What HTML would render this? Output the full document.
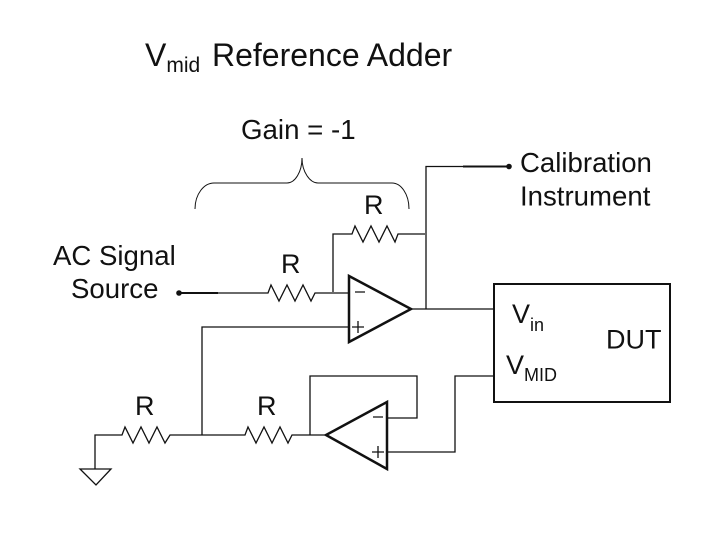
<!DOCTYPE html>
<html><head><meta charset="utf-8"><style>
html,body{margin:0;padding:0;background:#fff}
svg{display:block}
text{font-family:"Liberation Sans",Arial,sans-serif;fill:#111}
</style></head><body>
<svg width="720" height="540" viewBox="0 0 720 540" xmlns="http://www.w3.org/2000/svg">
<rect width="720" height="540" fill="#fff"/>
<g fill="none" stroke="#111" stroke-width="1.3">
<path d="M195 209C195 194 204 183 214 183H287C295 183 302 172 302 158C302 172 310 183 318 183H392C401 183 409 194 409 209" stroke-width="1"/>
<path d="M218 293H268L271 285L279 301L287 285L295 301L303 285L311 301L315 293H349"/>
<path d="M333 292V234H352L355 226L363 242L371 226L379 242L387 226L395 242L398 234H425"/>
<path d="M463 166.500H426V309"/>
<path d="M411 309H494"/>
<path d="M349 327H202V435"/>
<path d="M95 469V435H122L125 427L133 443L141 427L149 443L157 427L165 443L170 435H245L248 427L256 443L264 427L272 443L280 427L288 443L292 435H325"/>
<path d="M310 435V376H417V418H387"/>
<path d="M387 452H455V376H494"/>
<path d="M80 469H111L96 485Z"/>
<path d="M355 292H365M352 327H364M358 321V333"/>
<path d="M373 417H383M372 452H384M378 446V458"/>
</g>
<path d="M179 293H218M463 166.500H509" stroke="#111" stroke-width="2" fill="none"/>
<circle cx="179" cy="293" r="2.800" fill="#111"/>
<circle cx="509" cy="166.500" r="2.800" fill="#111"/>
<path d="M349 276L411 309L349 342Z" fill="none" stroke="#111" stroke-width="2.500"/>
<path d="M387 402L326 435L387 469Z" fill="none" stroke="#111" stroke-width="2.500"/>
<rect x="494" y="284" width="176" height="118" fill="none" stroke="#111" stroke-width="2"/>
<text x="145" y="66" font-size="32">V<tspan font-size="21" dy="6">mid</tspan></text>
<text x="212" y="66" font-size="32">Reference Adder</text>
<text x="241" y="139" font-size="27.700">Gain = -1</text>
<text x="364" y="214" font-size="27">R</text>
<text x="281" y="273" font-size="27">R</text>
<text x="135" y="415" font-size="27">R</text>
<text x="257" y="415" font-size="27">R</text>
<text x="53" y="265" font-size="27.600">AC Signal</text>
<text x="71" y="298" font-size="27.600">Source</text>
<text x="520" y="172" font-size="27.600">Calibration</text>
<text x="520" y="205.500" font-size="27.600">Instrument</text>
<text x="512" y="323" font-size="27">V<tspan font-size="18" dy="8">in</tspan></text>
<text x="506" y="374" font-size="27">V<tspan font-size="18" dy="7">MID</tspan></text>
<text x="606" y="348.500" font-size="27">DUT</text>
</svg>
</body></html>
